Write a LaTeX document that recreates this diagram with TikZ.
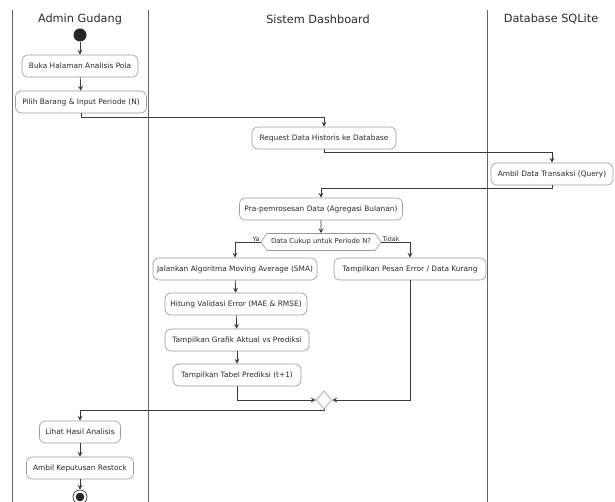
\documentclass[tikz,border=0pt]{standalone}
\usepackage{fontspec}
\setmainfont{DejaVu Sans}
\usetikzlibrary{shapes.geometric,shapes.symbols,arrows.meta}
\definecolor{txt}{HTML}{2A2A2A}
\definecolor{bord}{HTML}{9A9A9A}
\definecolor{lane}{HTML}{666666}
\definecolor{lin}{HTML}{3A3A3A}
\tikzset{
  act/.style={draw=bord, line width=0.6pt, rounded corners=6pt, fill=white, text=txt,
    font=\fontsize{7.4}{9}\selectfont, minimum height=22pt, inner sep=1pt},
  arr/.style={draw=lin, line width=0.7pt, -{Stealth[length=5pt,width=5pt,inset=2pt]}},
  lanetitle/.style={font=\fontsize{11.3}{13}\selectfont, text=txt},
  lanel/.style={draw=lane, line width=0.9pt},
  guard/.style={font=\fontsize{6.3}{7}\selectfont, text=txt, inner sep=0.5pt}
}
\begin{document}
\begin{tikzpicture}[x=1pt,y=-1pt]
\useasboundingbox (0,0) rectangle (615,502);
\clip (0,0) rectangle (615,502);
% lanes
\draw[lanel] (12,10) -- (12,502);
\draw[lanel] (148,10) -- (148,502);
\draw[lanel] (487,10) -- (487,502);
\node[lanetitle] (t1) at (80,19) {Admin Gudang};
\node[lanetitle] (t2) at (318,19) {Sistem Dashboard};
\node[lanetitle] (t3) at (551,19) {Database SQLite};
% start
\node[circle, fill=black!85, minimum size=13pt, inner sep=0pt] (start) at (80,35) {};
\node[act, minimum width=116pt] (buka) at (80,66) {Buka Halaman Analisis Pola};
\node[act, minimum width=131pt] (pilih) at (81,102) {Pilih Barang \& Input Periode (N)};
\node[act, minimum width=144pt] (req) at (324,138) {Request Data Historis ke Database};
\node[act, minimum width=122pt] (ambil) at (552,174) {Ambil Data Transaksi (Query)};
\node[act, minimum width=163pt] (pra) at (321,209) {Pra-pemrosesan Data (Agregasi Bulanan)};
\node[signal, signal to=east and west, signal pointer angle=110, draw=bord, line width=0.6pt,
  fill=white, text=txt, font=\fontsize{6.8}{8}\selectfont, minimum width=120pt, minimum height=17pt,
  inner sep=0.5pt] (dec) at (321,242) {Data Cukup untuk Periode N?};
\node[act, minimum width=164pt] (jal) at (235,269) {Jalankan Algoritma Moving Average (SMA)};
\node[act, minimum width=152pt] (pesan) at (410,269) {Tampilkan Pesan Error / Data Kurang};
\node[act, minimum width=142pt] (hit) at (236,304) {Hitung Validasi Error (MAE \& RMSE)};
\node[act, minimum width=144pt] (graf) at (237,340) {Tampilkan Grafik Aktual vs Prediksi};
\node[act, minimum width=128pt] (tab) at (237,375) {Tampilkan Tabel Prediksi (t+1)};
\node[diamond, draw=bord, line width=0.6pt, fill=white, minimum width=16pt, minimum height=18pt, inner sep=0pt] (merge) at (324,400) {};
\node[act, minimum width=81pt] (lihat) at (80,432) {Lihat Hasil Analisis};
\node[act, minimum width=107pt] (keput) at (80,468) {Ambil Keputusan Restock};
\node[circle, draw=lin, line width=0.7pt, fill=white, minimum size=14pt, inner sep=0pt] (end) at (80,497) {};
\fill[black!85] (end.center) circle (4.3pt);
% connectors
\draw[arr] (start) -- (buka);
\draw[arr] (buka) -- (pilih);
\draw[arr] (pilih.south) -- ++(0,4) -| (req.north);
\draw[arr] (req.south) -- ++(0,3) -| (ambil.north);
\draw[arr] (ambil.south) -- ++(0,3) -| (pra.north);
\draw[arr] (pra) -- (dec);
\draw[arr] (dec.west) -| (jal.north);
\draw[arr] (dec.east) -| (pesan.north);
\node[guard, anchor=south east] (ya) at ([xshift=-0.5pt,yshift=-0.5pt]dec.west) {Ya};
\node[guard, anchor=south west] (tidak) at ([xshift=0.5pt,yshift=-0.5pt]dec.east) {Tidak};
\draw[arr] (jal) -- (hit);
\draw[arr] (hit) -- (graf);
\draw[arr] (graf) -- (tab);
\draw[arr] (tab.south) |- (merge.west);
\draw[arr] (pesan.south) |- (merge.east);
\draw[arr] (merge.south) -- ++(0,1.5) -| (lihat.north);
\draw[arr] (lihat) -- (keput);
\draw[arr] (keput) -- (end);
\end{tikzpicture}
\end{document}
